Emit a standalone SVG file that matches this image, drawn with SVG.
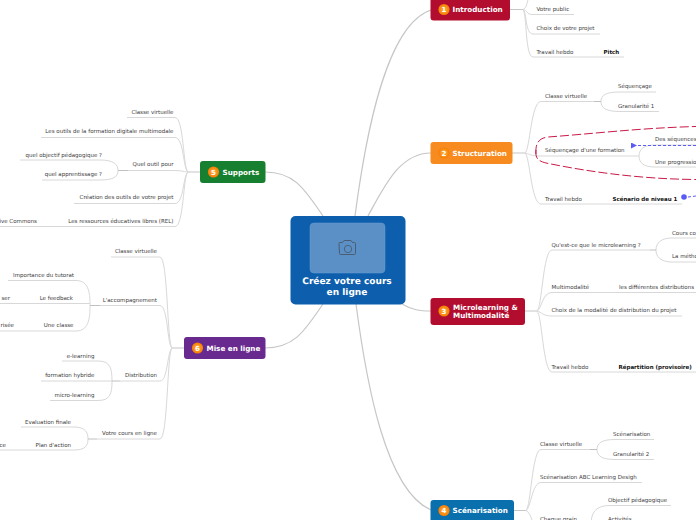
<svg xmlns="http://www.w3.org/2000/svg" width="696" height="520" viewBox="0 0 696 520">
<style>
text{font-family:"DejaVu Sans",Verdana,sans-serif;text-rendering:geometricPrecision}
.l{font-size:5.5px;fill:#3c3c3c}
.e{text-anchor:end}
.b{font-weight:bold;fill:#111}
.t{font-size:7.2px;font-weight:bold;fill:#fff}
.n{font-size:7px;font-weight:bold;fill:#fff;text-anchor:middle}
.c{fill:none;stroke:#d8d8d8;stroke-width:1}
.m{fill:none;stroke:#c6c6c6;stroke-width:1.2}
.k{fill:url(#o)}
</style>
<defs>
<radialGradient id="o"><stop offset="0" stop-color="#ffb347"/><stop offset="1" stop-color="#f57c00"/></radialGradient>
<marker id="ah" markerWidth="6" markerHeight="6" refX="1" refY="3" orient="auto"><path d="M6 0L0 3L6 6Z" fill="#5b5bf5"/></marker>
</defs>
<rect width="696" height="520" fill="#fff"/>
<g id="connectors">
<path class="m" d="M355 216C365 140 385 25 431 10M368 216C385 185 400 153 431 153M402 304C412 310 420 311 431 311M356 304C366 380 385 490 431 510M323 216C305 190 295 172 265 172M323 304C305 330 295 348 265 348"/>
<path class="m" d="M510 9.500H523M512 153H525M525 311H537M514 510.500H526M200 172H188M184 348H172"/>
<path class="c" d="M523 9.500C527 8 527 2 529 -4M523 9.500C527 10 527 14.500 532 14.500H574M523 9.500C527 12 525 34 533 34H600M523 9.500C527 14 525 57 533 57H624"/>
<path class="c" d="M525 153C530 150 531 101.500 541 101.500H600M601 101.500C601 95 606 92 620 92H656M601 101.500C601 108 606 111.500 620 111.500H659M525 153C530 154 530 156 541 156H639M639 156C639 149 644 145 655 145H696M639 156C639 163 644 167 655 167H696M525 153C530 156 531 204 541 204H682"/>
<path class="c" d="M537 311C542 308 543 250 552 250H650M656 250C656 243 661 238 672 238H696M656 250C656 257 661 262 672 262H696M537 311C542 309 542 292.500 552 292.500H696M537 311C542 312 542 316 552 316H682M537 311C542 314 543 372 552 372H696"/>
<path class="c" d="M526 510.500C531 507 532 449.500 541 449.500H597M597 449.500C597 443 602 439.500 615 439.500H654M597 449.500C597 456 602 459.500 615 459.500H654M526 510.500C531 508 532 482.500 541 482.500H642M526 510.500C533 514 529 525 541 525H590M591 525C591 512 596 505.500 610 505.500H671"/>
<path class="c" d="M188 172C183 169 184 117.500 175 117.500H127M188 172C183 169 184 137.500 175 137.500H41M188 172C184 172 184 170.500 172 170.500H118M118 170.500C118 164 113 160 100 160H20M118 170.500C118 177 113 180 100 180H42M188 172C183 175 184 203.500 175 203.500H74M188 172C183 175 184 226.500 175 226.500H0"/>
<path class="c" d="M172 348C167 344 168 257 160 257H111M172 348C167 344 168 305.500 160 305.500H100M90 305.500C90 296 90 280.500 76 280.500H8M90 305.500C90 315 90 331 76 331H0M90 303.500H0M172 348C167 352 168 381 160 381H120M112 381C112 368 110 361 98 361H62M112 381H41M112 381C112 394 110 400.500 98 400.500H50M172 348C167 352 168 439 160 439H97M88 439C88 432 85 427 74 427H21M88 439C88 446 85 450 74 450H0"/>
<path fill="none" stroke="#c0c0c0" stroke-width="1" d="M100 305.500H90M120 381H112M97 439H88M594 101.500H601M650 250H656M590 449.500H597M128 170.500H118"/>
<path fill="none" stroke="#c91a48" stroke-width="1" stroke-dasharray="9 3" d="M536 154C535 142 540 138 548 137C590 134 640 128 696 126.500M536 150C535 158 538 161 546 163C590 172 640 179 696 179.500"/>
<path fill="none" stroke="#5b5bf5" stroke-width="1" stroke-dasharray="3 2" d="M696 145.500H636" marker-end="url(#ah)"/>
<circle cx="684" cy="197" r="2.800" fill="#5b5bf5"/>
<path fill="none" stroke="#5b5bf5" stroke-width="1" stroke-dasharray="3 2" d="M688 197L696 196"/>
</g>
<g id="center">
<rect x="290.500" y="216" width="115" height="88.500" rx="5" fill="#0d5fad"/>
<rect x="310" y="223" width="75" height="50" rx="4" fill="#5a90c6" stroke="#6d9fd0" stroke-width="0.500"/>
<path d="M339 243.500a1 1 0 0 1 1-1h2.500l1.500-2h7l1.500 2h2a1 1 0 0 1 1 1v10a1 1 0 0 1-1 1h-14a1 1 0 0 1-1-1z" fill="none" stroke="#4a5d72" stroke-width="1"/>
<circle cx="348" cy="249" r="3.700" fill="none" stroke="#4a5d72" stroke-width="0.900"/>
<text class="t" x="347" y="284" text-anchor="middle" style="font-size:9px">Créez votre cours</text>
<text class="t" x="347" y="295" text-anchor="middle" style="font-size:9px">en ligne</text>
</g>
<g id="n1">
<rect x="430.500" y="-2" width="79.500" height="22.500" rx="3" fill="#b20c2e"/>
<circle class="k" cx="444" cy="9.500" r="5.600"/><text class="n" x="444" y="12">1</text>
<text class="t" x="452.500" y="12">Introduction</text>
<text class="l" x="536.500" y="11">Votre public</text>
<text class="l" x="536.500" y="30">Choix de votre projet</text>
<text class="l" x="536.500" y="54">Travail hebdo</text>
<text class="l b" x="603.500" y="54">Pitch</text>
</g>
<g id="n2">
<rect x="430.500" y="142" width="82" height="22" rx="3" fill="#f78b1f"/>
<circle class="k" cx="444" cy="153" r="5.600"/><text class="n" x="444" y="155.500">2</text>
<text class="t" x="452.500" y="156">Structuration</text>
<text class="l" x="545" y="98">Classe virtuelle</text>
<text class="l" x="618" y="88">Séquençage</text>
<text class="l" x="618" y="108">Granularité 1</text>
<text class="l" x="545" y="152">Séquençage d'une formation</text>
<text class="l" x="655" y="141">Des séquences</text>
<text class="l" x="655" y="164">Une progression</text>
<text class="l" x="545" y="201">Travail hebdo</text>
<text class="l b" x="612.500" y="201">Scénario de niveau 1</text>
</g>
<g id="n3">
<rect x="430.500" y="298" width="94.500" height="27" rx="3" fill="#b20c2e"/>
<circle class="k" cx="444" cy="311" r="5.600"/><text class="n" x="444" y="313.500">3</text>
<text class="t" x="453" y="310">Microlearning &amp;</text>
<text class="t" x="453" y="318">Multimodalité</text>
<text class="l" x="551.500" y="247">Qu'est-ce que le microlearning ?</text>
<text class="l" x="672" y="235">Cours co</text>
<text class="l" x="672" y="258">La métho</text>
<text class="l" x="551.500" y="289">Multimodalité</text>
<text class="l" x="619" y="289">les différentes distributions</text>
<text class="l" x="551.500" y="312">Choix de la modalité de distribution du projet</text>
<text class="l" x="551.500" y="369">Travail hebdo</text>
<text class="l b" x="618.500" y="369">Répartition (provisoire)</text>
</g>
<g id="n4">
<rect x="430.500" y="500" width="83.500" height="24" rx="3" fill="#0a70ad"/>
<circle class="k" cx="444" cy="510.500" r="5.600"/><text class="n" x="444" y="513">4</text>
<text class="t" x="452.500" y="513">Scénarisation</text>
<text class="l" x="540" y="446">Classe virtuelle</text>
<text class="l" x="613" y="436">Scénarisation</text>
<text class="l" x="613" y="456">Granularité 2</text>
<text class="l" x="540" y="479">Scénarisation ABC Learning Desigh</text>
<text class="l" x="540" y="521">Chaque grain</text>
<text class="l" x="608" y="502">Objectif pédagogique</text>
<text class="l" x="608" y="521">Activités</text>
</g>
<g id="n5">
<rect x="200" y="161" width="65.500" height="22" rx="3" fill="#178030"/>
<circle class="k" cx="213.500" cy="172" r="5.600"/><text class="n" x="213.500" y="174.500">5</text>
<text class="t" x="222.500" y="175">Supports</text>
<text class="l e" x="173.500" y="114">Classe virtuelle</text>
<text class="l e" x="173.500" y="133">Les outils de la formation digitale multimodale</text>
<text class="l e" x="173.500" y="166">Quel outil pour</text>
<text class="l e" x="102" y="157">quel objectif pédagogique ?</text>
<text class="l e" x="102" y="176">quel apprentissage ?</text>
<text class="l e" x="173.500" y="199">Création des outils de votre projet</text>
<text class="l e" x="173.500" y="223">Les ressources éducatives libres (REL)</text>
<text class="l e" x="37" y="223">ive Commons</text>
</g>
<g id="n6">
<rect x="184" y="337" width="81.500" height="22" rx="3" fill="#682a8e"/>
<circle class="k" cx="197.500" cy="348" r="5.600"/><text class="n" x="197.500" y="350.500">6</text>
<text class="t" x="206.500" y="351">Mise en ligne</text>
<text class="l e" x="157" y="253">Classe virtuelle</text>
<text class="l e" x="157" y="302">L'accompagnement</text>
<text class="l e" x="74" y="277">Importance du tutorat</text>
<text class="l e" x="73" y="300">Le feedback</text>
<text class="l e" x="10" y="300">ser</text>
<text class="l e" x="73.500" y="327">Une classe</text>
<text class="l e" x="14" y="327">risée</text>
<text class="l e" x="94.500" y="358">e-learning</text>
<text class="l e" x="94.500" y="377">formation hybride</text>
<text class="l e" x="94.500" y="397">micro-learning</text>
<text class="l e" x="157" y="377">Distribution</text>
<text class="l e" x="157" y="435">Votre cours en ligne</text>
<text class="l e" x="71" y="424">Evaluation finale</text>
<text class="l e" x="71" y="447">Plan d'action</text>
<text class="l e" x="6" y="447">ce</text>
</g>
</svg>
